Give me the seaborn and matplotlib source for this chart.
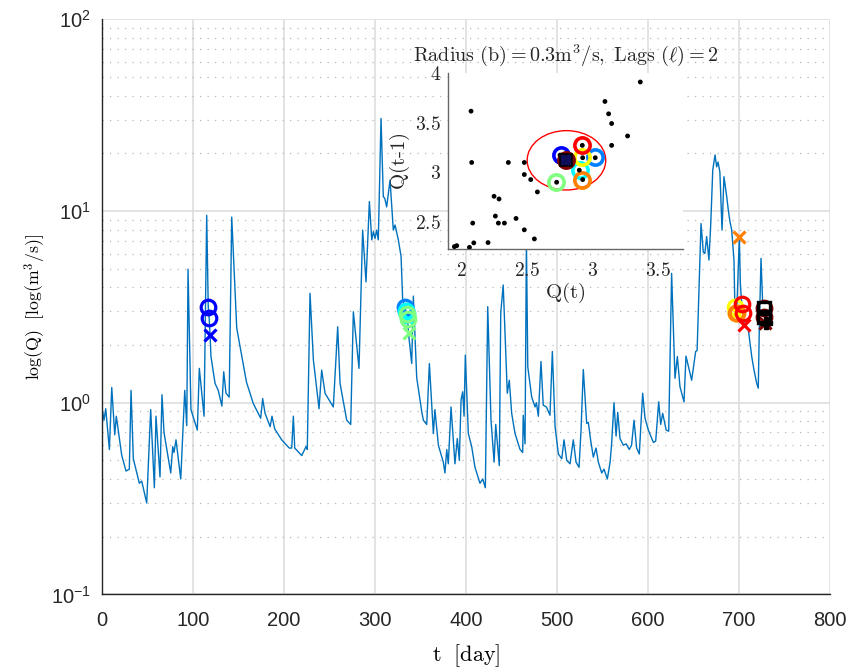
import matplotlib
matplotlib.use("Agg")
import matplotlib.pyplot as plt
import seaborn as sns
import numpy as np
import pandas as pd
from matplotlib.patches import Ellipse
from matplotlib.ticker import FixedLocator, FuncFormatter, LogLocator, NullFormatter

# ---------------- data ----------------
t_day = [1, 2.5, 4.4, 8.4, 11, 14.3, 16, 17.6, 22, 26.7, 30.3, 32.2, 34.7, 41.3, 43.9, 49.4,
         53.8, 57.8, 59.6, 64, 66.2, 68.4, 75.8, 78, 79.4, 81.6, 86.8, 91.2, 93.4, 94.8, 98,
         105, 107.2, 112.4, 115.3, 117, 118, 119, 120, 124.5, 128, 132, 134, 136.5, 140,
         142.8, 148.3, 159, 166.5, 174.6, 176.8, 179.4, 185, 187, 190, 197.7, 206, 208.7,
         210.5, 212, 219.7, 224.4, 225.8, 228.8, 232.5, 238.7, 241.6, 245.3, 254.4, 259.2,
         261.8, 269.1, 273.5, 276.4, 282.6, 286.6, 290.3, 294, 296.6, 298.4, 300.2, 302,
         303.8, 306.8, 309.3, 311, 313, 316.7, 320.3, 322.2, 325.8, 328.8, 330.6, 333, 334,
         335, 336, 337, 340.5, 342.3, 346, 351.5, 353.3, 357, 359.9, 364.3, 366, 369.8,
         375.2, 377, 379, 380.7, 383.7, 388, 390.6, 392.8, 394.7, 396.5, 398, 399.4, 402.7,
         406.4, 410, 415.5, 418.5, 421.4, 424, 427.6, 431, 432.8, 436.7, 438.3, 441, 445.5,
         447.7, 450.3, 454, 459.5, 462.4, 463, 465, 466.5, 468, 472.3, 476, 477.5, 479.6,
         482.5, 485, 488.5, 492.4, 495, 498, 501.6, 505.3, 507.8, 510.8, 514.4, 518, 521,
         524.3, 526.5, 529, 532.7, 534.5, 537, 540, 543, 545.5, 549.2, 551.7, 555.4, 558.4,
         560, 562.7, 565, 566.8, 569.3, 573, 576, 579.5, 582, 584.7, 587.6, 590.5, 594.2,
         596.8, 600.4, 606, 608.5, 611.8, 614, 616.2, 620, 622.8, 626, 629.7, 632.3, 635.2,
         639.6, 641.8, 648, 652.4, 654, 657.2, 658.3, 660.8, 662.5, 664.5, 667, 669, 671.2,
         673.7, 675.5, 677, 679, 681.4, 683.5, 686.5, 688.3, 690.1, 692, 694.5, 695.5, 696.5,
         697.5, 700.4, 701.5, 703, 704, 706, 710.3, 714, 716.5, 719.5, 721.2, 722.3, 724.2,
         726]
q_flow = [0.90, 0.81, 0.93, 0.57, 1.2, 0.68, 0.85, 0.75, 0.53, 0.44, 0.45, 1.16, 0.51, 0.38,
          0.39, 0.30, 0.92, 0.36, 0.85, 0.41, 1.10, 0.70, 0.43, 0.59, 0.55, 0.64, 0.40, 1.16,
          0.76, 4.97, 0.92, 0.72, 1.51, 0.85, 9.5, 3.17, 2.76, 2.26, 1.74, 1.26, 1.16, 0.96,
          1.45, 1.12, 1.07, 9.3, 2.45, 1.28, 0.99, 0.83, 1.05, 0.88, 0.75, 0.85, 0.73, 0.64,
          0.58, 0.58, 0.85, 0.58, 0.53, 0.59, 0.57, 3.72, 1.67, 0.93, 1.48, 1.12, 0.95, 2.49,
          1.26, 0.81, 0.77, 2.98, 1.51, 7.95, 4.27, 11.2, 7.07, 7.8, 7.2, 7.95, 7.07, 30.4,
          11.9, 11.6, 10.5, 14.5, 7.95, 8.45, 7.07, 5.8, 3.43, 3.15, 3.02, 2.90, 2.72, 2.30,
          1.6, 3.6, 1.35, 0.9, 0.81, 0.77, 1.6, 0.69, 0.92, 0.6, 0.49, 0.43, 0.57, 0.48, 0.95,
          0.48, 0.65, 0.5, 1.03, 1.14, 0.85, 1.77, 0.69, 0.59, 0.46, 0.38, 0.40, 0.36, 3.17,
          0.81, 0.49, 0.77, 0.47, 2.93, 4.11, 1.12, 1.31, 0.88, 0.69, 0.57, 0.55, 0.86, 0.61,
          7.0, 1.54, 1.07, 0.95, 1.0, 0.85, 1.64, 0.97, 0.95, 0.86, 1.85, 0.75, 0.54, 0.51,
          0.64, 0.50, 0.48, 0.64, 0.49, 0.46, 0.72, 1.49, 0.78, 0.79, 0.64, 0.52, 0.58, 0.49,
          0.43, 0.45, 0.40, 0.49, 0.6, 1.0, 0.67, 0.89, 0.65, 0.60, 0.61, 0.57, 0.6, 0.81, 0.58,
          0.54, 1.12, 0.83, 0.72, 0.62, 0.63, 1.01, 0.77, 0.88, 0.72, 0.71, 4.73, 1.34, 1.74,
          1.21, 1.01, 1.75, 1.31, 1.85, 1.87, 6.0, 8.6, 6.1, 6.0, 7.35, 5.55, 8.6, 16.4, 19.6,
          17.0, 18.0, 16.0, 7.95, 15.1, 11.9, 10.1, 8.8, 7.95, 5.55, 3.15, 2.92, 2.92, 7.35,
          4.2, 3.27, 2.92, 2.54, 2.4, 1.74, 1.48, 1.26, 1.19, 2.4, 5.66, 3.3]

# neighbours (jet colours): time of Q(t-1), Q(t-1), Q(t), time of Q(t+1), Q(t+1)
nb_colors = [(0, 0, 1), (0, 0.5, 1), (0, 1, 1), (0.5, 1, 0.5), (1, 1, 0), (1, 0.5, 0),
             (1, 0, 0), (0.5, 0, 0)]
nb_t = [117, 333, 334, 335, 695.5, 696.5, 703, 727]
nb_prev = [3.17, 3.15, 3.02, 2.90, 3.15, 2.92, 3.27, 3.12]
nb_curr = [2.76, 3.02, 2.90, 2.72, 2.92, 2.92, 2.92, 2.80]
nb_tx = [119, 335, 336, 337, 697.5, 700.4, 705.5, 729]
nb_next = [2.26, 2.90, 2.72, 2.30, 2.92, 7.35, 2.54, 2.60]

query_t = [727, 728]
query_q = [3.12, 2.80]
fcst_t = [729.5]
fcst_q = [2.60]

# phase-space points: Q(t), Q(t-1)
ps_x = [1.944, 1.962, 2.059, 2.092, 2.071, 2.076, 2.084, 2.201, 2.247, 2.285, 2.257, 2.28,
        2.326, 2.356, 2.415, 2.478, 2.478, 2.527, 2.478, 2.555, 2.578, 2.725, 2.751, 2.791,
        2.921, 2.924, 3.02, 2.898, 2.924, 3.094, 3.122, 3.145, 3.145, 3.267, 3.364]
ps_y = [2.247, 2.257, 2.24, 2.285, 3.617, 3.098, 2.485, 2.288, 2.756, 2.729, 2.556, 2.485,
        2.485, 3.098, 2.532, 3.098, 2.976, 2.925, 2.417, 2.325, 2.8, 2.898, 3.173, 3.119,
        3.271, 3.146, 3.146, 3.02, 2.925, 3.715, 3.59, 3.492, 3.271, 3.366, 3.912]
radius_b = 0.3

xticks_main = [0, 100, 200, 300, 400, 500, 600, 700, 800]
xticks_in = [2, 2.5, 3, 3.5]
yticks_in = [2.5, 3, 3.5, 4]

# ---------------- style ----------------
sns.set_style("white")
plt.rcParams["font.family"] = ["Liberation Sans", "DejaVu Sans"]
plt.rcParams["mathtext.fontset"] = "cm"
plt.rcParams["axes.unicode_minus"] = False

LINE = (0, 0.447, 0.741)
AXC = (0.15, 0.15, 0.15)

fig = plt.figure(figsize=(8.52, 6.68), dpi=100)
ax = fig.add_axes([0.1194, 0.1102, 0.8548, 0.8609])

df = pd.DataFrame({"t": t_day, "Q": q_flow})
sns.lineplot(data=df, x="t", y="Q", ax=ax, color=LINE, lw=1.0, estimator=None, sort=False)
ax.set_yscale("log")
ax.set_xlim(0, 800)
ax.set_ylim(0.1, 100)
ax.set_xticks(xticks_main)
ax.yaxis.set_major_locator(LogLocator(base=10, numticks=10))
ax.yaxis.set_minor_locator(LogLocator(base=10, subs=np.arange(2, 10), numticks=10))
ax.yaxis.set_minor_formatter(NullFormatter())

ax.grid(True, which="major", color=(0.87, 0.87, 0.87), lw=1.2)
ax.yaxis.grid(True, which="minor", color=(0.72, 0.72, 0.72), lw=0.9, ls=(0, (1, 5)))
ax.set_axisbelow(True)
for s in ["top", "right"]:
    ax.spines[s].set_visible(False)
for s in ["left", "bottom"]:
    ax.spines[s].set_color(AXC)
    ax.spines[s].set_linewidth(1.0)
ax.tick_params(which="major", direction="in", length=6, width=1.0, colors=AXC,
               labelsize=14.5, labelcolor=AXC, pad=8)
ax.tick_params(axis="x", which="major", pad=12)
ax.tick_params(which="minor", direction="in", length=3.5, width=0.8, colors=AXC)
ax.set_xlabel(r"$\mathrm{t\ \ [day]}$", fontsize=16, labelpad=9, color="black")
ax.set_ylabel(r"$\mathrm{log(Q)\ \ [log(m^3/s)]}$", fontsize=12.8, labelpad=2, color="black")

# neighbour markers in time series
for i, c in enumerate(nb_colors):
    ax.plot([nb_t[i], nb_t[i] + 1], [nb_prev[i], nb_curr[i]], ls="none", marker="o",
            ms=10.5, mfc="none", mec=c, mew=2.3, zorder=5)
    ax.plot([nb_tx[i]], [nb_next[i]], ls="none", marker="x", ms=8, mec=c, mew=2.3, zorder=5)
ax.plot(query_t, query_q, ls="none", marker="s", ms=8.5, mfc="none", mec="black", mew=2.4,
        zorder=6)
ax.plot(fcst_t, fcst_q, ls="none", marker="P", ms=9, mfc="black", mec="black", zorder=6)

# ---------------- inset ----------------
ins = fig.add_axes([0.5258, 0.6268, 0.2758, 0.2635])
ins.set_facecolor("white")
sns.scatterplot(x=ps_x, y=ps_y, ax=ins, color="black", s=12, edgecolor="none", zorder=3)
ins.add_patch(Ellipse((query_q[1], query_q[0]), 2 * radius_b, 2 * radius_b, fill=False,
                      ec="red", lw=1.0, zorder=2))
for i, c in enumerate(nb_colors):
    ins.plot([nb_curr[i]], [nb_prev[i]], ls="none", marker="o", ms=11, mfc="none", mec=c,
             mew=2.6, zorder=2.5)
ins.plot([query_q[1]], [query_q[0]], ls="none", marker="s", ms=8, mfc=(0.05, 0.05, 0.35),
         mec="black", mew=1.2, zorder=4)
ins.set_xlim(1.895, 3.69)
ins.set_ylim(2.22, 4.0)
ins.set_xticks(xticks_in)
ins.set_yticks(yticks_in)
fmt = FuncFormatter(lambda v, p: r"$\mathrm{%g}$" % v)
ins.xaxis.set_major_formatter(fmt)
ins.yaxis.set_major_formatter(fmt)
for s in ["top", "right"]:
    ins.spines[s].set_visible(False)
for s in ["left", "bottom"]:
    ins.spines[s].set_color((0.4, 0.4, 0.4))
    ins.spines[s].set_linewidth(1.0)
ins.tick_params(direction="in", length=4, width=0.8, colors=(0.4, 0.4, 0.4),
                labelsize=14, labelcolor=(0.15, 0.15, 0.15), pad=5)
ins.tick_params(axis="x", pad=9)
ins.grid(False)
ins.set_xlabel(r"$\mathrm{Q(t)}$", fontsize=15, labelpad=1)
ins.set_ylabel(r"$\mathrm{Q(t\text{-}1)}$", fontsize=15, labelpad=2)
ins.set_title(r"$\mathrm{Radius\ (b) = 0.3m^3/s,\ Lags\ (}\ell\mathrm{) = 2}$", fontsize=14.5,
              pad=9)

fig.savefig("out.png", dpi=100)
